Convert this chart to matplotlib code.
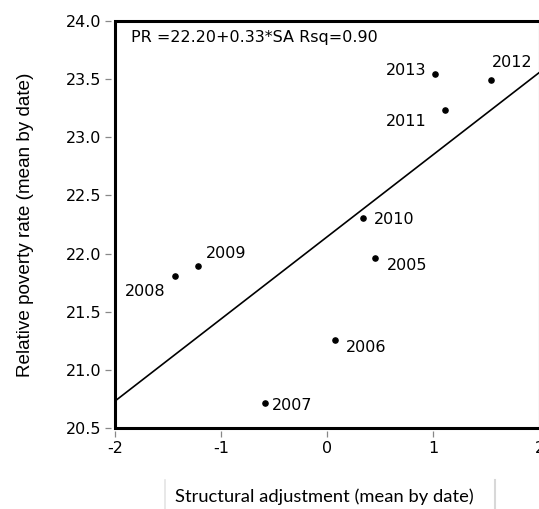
import numpy as np
import matplotlib
import matplotlib.pyplot as plt
from matplotlib.lines import Line2D
from matplotlib.patches import Rectangle

matplotlib.use('Agg')

# values
years = ['2005', '2006', '2007', '2008', '2009', '2010', '2011', '2012', '2013']
sa = [0.45, 0.07, -0.59, -1.43, -1.22, 0.335, 1.105, 1.54, 1.02]
pr = [21.96, 21.26, 20.72, 21.81, 21.89, 22.31, 23.23, 23.49, 23.54]

# label offsets (pixels) and alignment for each year
label_off = {
    '2005': (12, -7, 'left'),
    '2006': (11, -8, 'left'),
    '2007': (7, -3, 'left'),
    '2008': (-10, -16, 'right'),
    '2009': (8, 13, 'left'),
    '2010': (11, -2, 'left'),
    '2011': (-18, -11, 'right'),
    '2012': (1, 18, 'left'),
    '2013': (-9, 4, 'right'),
}

x_ticks = [-2, -1, 0, 1, 2]
y_ticks = [20.5, 21.0, 21.5, 22.0, 22.5, 23.0, 23.5, 24.0]
equation = "PR =22.20+0.33*SA Rsq=0.90"

plt.rcParams['font.family'] = 'DejaVu Sans'

fig = plt.figure(figsize=(5.39, 5.09), dpi=100)
ax = fig.add_axes([115 / 539, (509 - 428.3) / 509, 424.5 / 539, 407.6 / 509])

ax.set_xlim(-2, 2)
ax.set_ylim(20.5, 24.0)

# regression line through the points
slope, icpt = np.polyfit(sa, pr, 1)
xl = np.array([-2, 2])
ax.plot(xl, icpt + slope * xl, color='black', lw=1.2)

ax.scatter(sa, pr, s=14, color='black', zorder=3)

for yr, x, y in zip(years, sa, pr):
    dx, dy, ha = label_off[yr]
    ax.annotate(yr, (x, y), xytext=(dx, dy), textcoords='offset pixels',
                ha=ha, va='center', fontsize=11.5)

ax.text(16 / 424.5, 1 - 17 / 407.6, equation, transform=ax.transAxes,
        ha='left', va='center', fontsize=11.5)

# frame drawn separately so ticks sit a little away from it
for s in ax.spines.values():
    s.set_visible(False)
ax.spines['left'].set_position(('outward', 3))
ax.spines['bottom'].set_position(('outward', 2))
ax.add_patch(Rectangle((0, 0), 1, 1, transform=ax.transAxes, fill=False,
                       lw=2.2, edgecolor='black', clip_on=False, zorder=5))

ax.set_xticks(x_ticks)
ax.set_xticklabels([str(t) for t in x_ticks])
ax.set_yticks(y_ticks)
ax.set_yticklabels([f"{t:.1f}" for t in y_ticks])
ax.tick_params(direction='out', length=4, width=0.9, color='#888888',
               labelsize=11.5, pad=3)

ax.set_ylabel("Relative poverty rate (mean by date)", fontsize=13.6,
              family='Liberation Sans', labelpad=23)

# x-axis title sits in a separate pasted box
fig.add_artist(Line2D([165 / 539, 165 / 539], [0, 29 / 509], color='#e4e4e4', lw=1.2))
fig.add_artist(Line2D([495 / 539, 495 / 539], [0, 29 / 509], color='#d8d8d8', lw=1.5))
fig.text(175 / 539, 12 / 509, "Structural adjustment (mean by date)",
         ha='left', va='center', fontsize=13.2, family='Lato')

fig.savefig('out.png', dpi=100)
